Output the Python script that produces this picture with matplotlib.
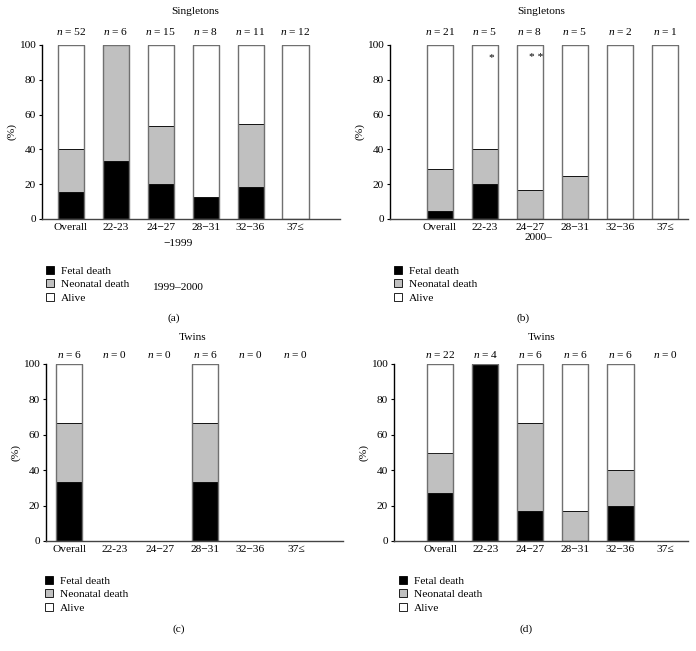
import numpy as np
import matplotlib
matplotlib.use("Agg")
import matplotlib.pyplot as plt
from matplotlib.patches import Patch

plt.rcParams['font.family'] = ['Liberation Serif', 'DejaVu Serif']
plt.rcParams['mathtext.fontset'] = 'custom'
plt.rcParams['mathtext.rm'] = 'Liberation Serif'
plt.rcParams['mathtext.it'] = 'Liberation Serif:italic'
plt.rcParams['font.size'] = 8.2

groups = ['Overall', '22-23', '24\u221227', '28\u221231', '32\u221236', '37\u2264']

# percentages per panel: fetal death, neonatal death, alive
n_a = [52, 6, 15, 8, 11, 12]
fetal_a = [15.4, 33.3, 20.0, 12.5, 18.2, 0]
neo_a = [25.0, 66.7, 33.3, 0, 36.3, 0]

n_b = [21, 5, 8, 5, 2, 1]
fetal_b = [4.8, 20.0, 0, 0, 0, 0]
neo_b = [23.8, 20.0, 16.7, 25.0, 0, 0]

n_c = [6, 0, 0, 6, 0, 0]
fetal_c = [33.3, 0, 0, 33.3, 0, 0]
neo_c = [33.3, 0, 0, 33.3, 0, 0]

n_d = [22, 4, 6, 6, 6, 0]
fetal_d = [27.3, 100.0, 16.7, 0, 20.0, 0]
neo_d = [22.7, 0, 50.0, 16.7, 20.0, 0]

W, H = 696, 651
fig = plt.figure(figsize=(W / 100, H / 100), dpi=100)


def px(x, y):
    return x / W, 1 - y / H


def make_axes(l, t, r, b):
    x0, y0 = px(l, b)
    x1, y1 = px(r, t)
    return fig.add_axes([x0, y0, x1 - x0, y1 - y0])


def panel(ax, n, fetal, neo, xlim, n_off):
    x = np.arange(len(groups))
    fetal = np.array(fetal)
    neo = np.array(neo)
    has = np.array(n) > 0
    alive = np.where(has, 100 - fetal - neo, 0)
    w = 0.58
    ax.bar(x[has], fetal[has], w, color='black', edgecolor='black', lw=0.6)
    ax.bar(x[has], neo[has], w, bottom=fetal[has], color='#c0c0c0',
           edgecolor='black', lw=0.6)
    ax.bar(x[has], alive[has], w, bottom=(fetal + neo)[has], color='white',
           edgecolor='black', lw=0.6)
    ax.bar(x[has], 100, w, fill=False, edgecolor='#707070', lw=1.0)
    ax.set_xlim(*xlim)
    ax.set_ylim(0, 100)
    ax.set_yticks([0, 20, 40, 60, 80, 100])
    ax.set_xticks(x)
    ax.set_xticklabels(groups)
    ax.tick_params(axis='x', length=0, pad=3)
    ax.tick_params(axis='y', length=2.5, width=0.8, direction='out', pad=2)
    for s in ['top', 'right']:
        ax.spines[s].set_visible(False)
    ax.spines['left'].set_linewidth(1.0)
    ax.spines['bottom'].set_linewidth(1.0)
    ax.spines['bottom'].set_color('#444444')
    ax.set_ylabel('(%)', labelpad=2)
    trans = ax.get_xaxis_transform()
    for xi, ni in zip(x, n):
        ax.text(xi, 1 + n_off, f'$n$ = {ni}', transform=trans,
                ha='center', va='baseline')


handles = [Patch(facecolor='black', edgecolor='black', lw=0.6, label='Fetal death'),
           Patch(facecolor='#c0c0c0', edgecolor='black', lw=0.6, label='Neonatal death'),
           Patch(facecolor='white', edgecolor='black', lw=0.6, label='Alive')]


def legend(x, y):
    fig.legend(handles=handles, loc='upper left', bbox_to_anchor=px(x, y),
               frameon=False, handlelength=0.7, handleheight=0.7,
               handletextpad=0.6, labelspacing=0.3, borderpad=0,
               borderaxespad=0, fontsize=8.2)


ax_a = make_axes(42, 45, 340, 219)
panel(ax_a, n_a, fetal_a, neo_a, (-0.64, 5.99), 0.055)
ax_b = make_axes(390, 45, 688, 219)
panel(ax_b, n_b, fetal_b, neo_b, (-1.11, 5.51), 0.055)
ax_c = make_axes(46, 364, 343, 541)
panel(ax_c, n_c, fetal_c, neo_c, (-0.51, 6.04), 0.035)
ax_d = make_axes(394, 364, 688, 541)
panel(ax_d, n_d, fetal_d, neo_d, (-1.03, 5.5), 0.035)

# significance marks
ax_b.text(1.13, 93, '*', ha='center', va='center')
ax_b.text(2.13, 93, '* *', ha='center', va='center')

for (x, y), s in [((195, 11), 'Singletons'), ((541, 11), 'Singletons'),
                  ((193, 337), 'Twins'), ((542, 337), 'Twins'),
                  ((178, 243), '\u22121999'), ((177, 287), '1999\u20132000'),
                  ((538, 237), '2000\u2013'),
                  ((174, 318), '(a)'), ((523, 318), '(b)'),
                  ((179, 629), '(c)'), ((526, 629), '(d)')]:
    fig.text(*px(x, y), s, ha='center', va='center')

legend(46, 266)
legend(394, 266)
legend(45, 576)
legend(399, 576)

fig.savefig('out.png', dpi=100)
